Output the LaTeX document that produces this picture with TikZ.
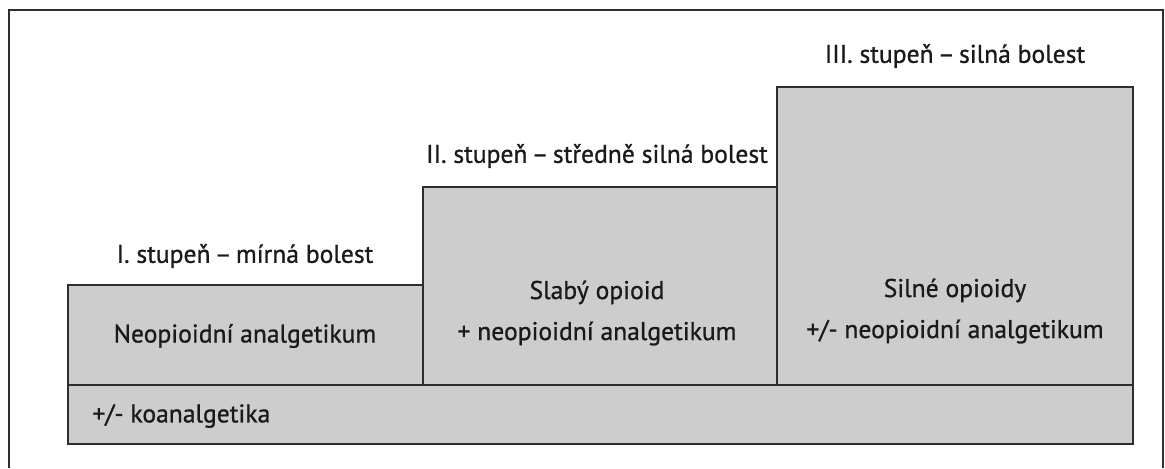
\documentclass[tikz,border=0pt]{standalone}
\usepackage{fontspec}
\setmainfont{PT Sans}[FakeBold=0.9]
\definecolor{boxfill}{HTML}{CDCDCD}
\definecolor{edge}{HTML}{2E2E2E}
\definecolor{txt}{HTML}{1A1A1A}
\begin{document}
\begin{tikzpicture}[x=0.5pt,y=-0.5pt,
  stepbox/.style={draw=edge,fill=boxfill,line width=1pt,inner sep=0pt,anchor=north west},
  lbl/.style={text=txt,font=\fontsize{12.8}{15}\selectfont,inner sep=0pt},
  inlbl/.style={lbl,align=center,font=\fontsize{12.8}{20.5}\selectfont}]
\useasboundingbox (0,0) rectangle (1165,468);
\draw[edge,line width=1.2pt] (9,468) -- (9,10) -- (1163,10) -- (1163,468);
% steps
\node[stepbox,minimum width=177.5pt,minimum height=50pt] (s1) at (67,284) {};
\node[stepbox,minimum width=177.5pt,minimum height=99pt] (s2) at (422,186) {};
\node[stepbox,minimum width=178pt,minimum height=149pt] (s3) at (776,86) {};
\node[stepbox,minimum width=532.5pt,minimum height=29.5pt] (bar) at (67,384) {};
% headings
\node[lbl] (h1) at (245,256) {I. stupeň\,–\,mírná bolest};
\node[lbl] (h2) at (597,156) {II. stupeň\,–\,středně silná bolest};
\node[lbl] (h3) at (955,56) {III. stupeň\,–\,silná bolest};
% contents
\node[lbl] (t1) at (245,336) {Neopioidní analgetikum};
\node[inlbl] (t2) at (597,313) {Slabý opioid\\+ neopioidní analgetikum};
\node[inlbl] (t3) at (955,311) {Silné opioidy\\+/- neopioidní analgetikum};
\node[lbl,anchor=west] (t4) at (92,416) {+/- koanalgetika};
\end{tikzpicture}
\end{document}
